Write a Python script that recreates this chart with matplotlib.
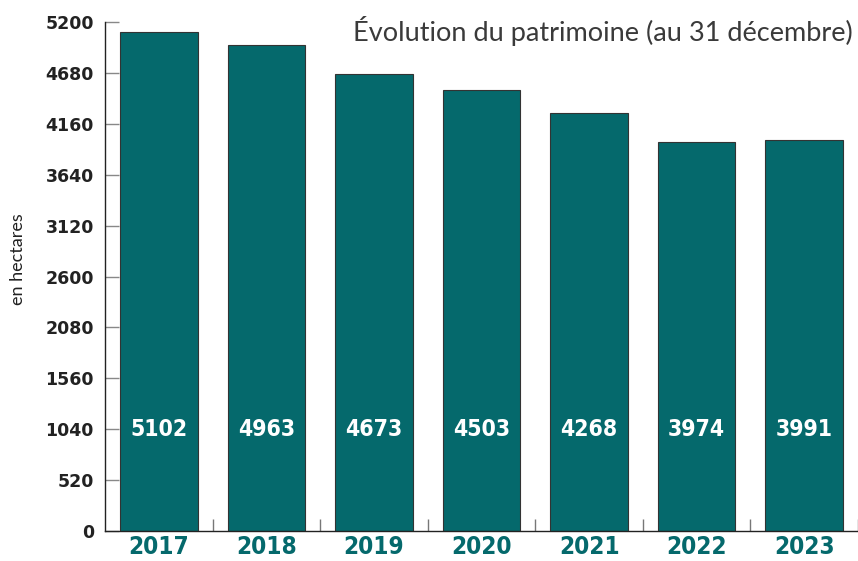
import matplotlib.pyplot as plt
import numpy as np

years = ["2017", "2018", "2019", "2020", "2021", "2022", "2023"]
surfaces = [5102, 4963, 4673, 4503, 4268, 3974, 3991]
yticks = [0, 520, 1040, 1560, 2080, 2600, 3120, 3640, 4160, 4680, 5200]

teal = "#05696c"

fig = plt.figure(figsize=(8.58, 5.61), dpi=100)
ax = fig.add_axes([105 / 858, 30 / 561, 753 / 858, 509 / 561])

x = np.arange(len(years))
ax.bar(x, surfaces, width=0.72, color=teal, edgecolor="#333333", linewidth=0.8, zorder=2)

# valeurs dans les barres
for xi, v in zip(x, surfaces):
    ax.text(xi, 1040, str(v), ha="center", va="center", color="white",
            fontsize=16.5, fontweight="bold", fontstretch="condensed", zorder=3)

ax.set_xlim(-0.5, len(years) - 0.5)
ax.set_ylim(0, 5200)
ax.set_yticks(yticks)
ax.set_yticklabels([str(t) for t in yticks], fontsize=12.5, fontweight="bold", color="#222222")
ax.tick_params(axis="y", direction="in", length=10, width=1, color="#888888", pad=8)

ax.set_xticks(x)
ax.set_xticklabels(years, fontsize=17.5, fontweight="bold", color=teal, fontstretch="condensed")
ax.tick_params(axis="x", which="major", length=0, pad=3)
ax.set_xticks(list(x + 0.5), minor=True)
ax.tick_params(axis="x", which="minor", direction="in", length=9, width=1, color="#777777")

for s in ["top", "right"]:
    ax.spines[s].set_visible(False)
for s in ["left", "bottom"]:
    ax.spines[s].set_color("#222222")
    ax.spines[s].set_linewidth(1)

ax.set_ylabel("en hectares", fontsize=13, family="Lato", color="#222222")
ax.yaxis.set_label_coords(-0.105, 0.535)

fig.text(853 / 858, 1 - 31 / 561, "Évolution du patrimoine (au 31 décembre)", ha="right", va="center",
         fontsize=19.5, family="Lato", color="#3a3a3a")

fig.savefig("out.png", dpi=100)
